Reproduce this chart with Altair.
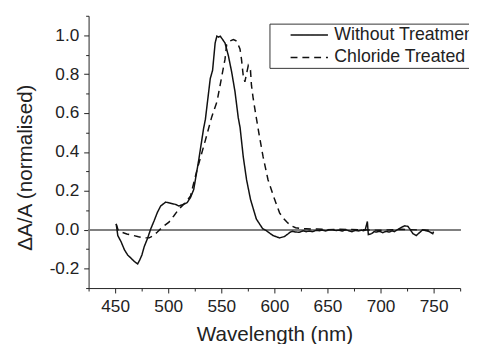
import altair as alt
import pandas as pd

# Without Treatment (solid)
sol_wl = [451, 452.5, 455.6, 458.8, 461.8, 464.9, 468, 471.2, 473.3, 475.2, 477.4, 480.5,
          483.6, 486.8, 489.8, 492.9, 497.6, 502.2, 507, 510, 514.6, 517.8, 520.9, 524,
          528.7, 533.3, 535, 539.6, 541.8, 544.2, 545.8, 547.4, 549, 551, 553.5, 556.7,
          559.8, 562.9, 566, 567.7, 570.7, 573.8, 577.5, 583, 589, 592.4, 598.7, 604.9,
          609.5, 612.7, 614.8, 617, 620, 623.5, 627, 630, 633, 636, 639, 642.3, 645, 648.5,
          651, 654.6, 658, 660.8, 664, 667, 670, 673, 676, 679.4, 682, 683.8, 685.5, 687.6,
          688.5, 691.6, 694, 696, 699, 702, 705, 708.4, 711, 713, 716, 719.6, 722.7, 725.8,
          727.4, 730.5, 733.6, 736.7, 739.8, 742.9, 746, 749.2, 750]
sol_val = [0.03, -0.03, -0.062, -0.104, -0.13, -0.146, -0.163, -0.176, -0.154, -0.13, -0.087, -0.045,
           0.005, 0.047, 0.089, 0.122, 0.142, 0.136, 0.13, 0.122, 0.131, 0.139, 0.165, 0.206,
           0.357, 0.52, 0.567, 0.777, 0.82, 0.96, 0.995, 0.99, 0.995, 0.98, 0.96, 0.894,
           0.81, 0.71, 0.575, 0.525, 0.374, 0.257, 0.156, 0.055, 0.005, -0.005, -0.03, -0.042,
           -0.035, -0.022, -0.013, -0.008, -0.012, -0.013, -0.006, -0.01, -0.007, -0.01, -0.004, -0.005, -0.002, -0.006,
           -0.001, 0.0, -0.004, -0.002, -0.007, 0.0, -0.005, -0.01, -0.004, -0.006, -0.002, -0.005, -0.002, 0.042,
           -0.025, -0.02, -0.01, -0.012, -0.008, -0.015, -0.009, -0.012, -0.006, -0.01, 0.0, 0.012, 0.02, 0.017,
           0.005, -0.02, -0.03, -0.015, 0.0, -0.005, -0.01, -0.02, -0.01]

# Chloride Treated (dashed)
dash_wl = [451, 453, 455.6, 461, 466.5, 472, 477.4, 482, 486, 489.8, 494.5, 500.7, 505.4, 510,
           516.2, 521, 527.1, 534.9, 541, 546, 550.5, 553.5, 555, 558, 561.4, 564.5, 567.6,
           569, 570.7, 572.2, 575.4, 577.5, 578.4, 580, 583, 585.6, 589.4, 594, 600.2, 604.9,
           608, 612, 615.8, 620, 625, 630, 635, 640, 645, 650, 660, 680, 700, 720, 740, 750]
dash_val = [0.03, -0.005, -0.012, -0.022, -0.029, -0.036, -0.042, -0.042, -0.03, -0.012, 0.013, 0.039,
            0.072, 0.106, 0.139, 0.173, 0.307, 0.458, 0.58, 0.66, 0.79, 0.877, 0.95, 0.97, 0.978,
            0.97, 0.93, 0.877, 0.79, 0.76, 0.844, 0.82, 0.743, 0.676, 0.575, 0.49, 0.374, 0.257,
            0.156, 0.087, 0.062, 0.038, 0.02, 0.01, 0.006, 0.005, 0.003, 0.004, 0.002, 0.0,
            0.002, 0.0, -0.003, 0.002, -0.002, -0.004]

series_names = ["Without Treatment", "Chloride Treated"]
x_major = [450, 500, 550, 600, 650, 700, 750]
x_minor = [425, 475, 525, 575, 625, 675, 725, 775]
y_major = [-0.2, 0.0, 0.2, 0.4, 0.6, 0.8, 1.0]
y_minor = [-0.3, -0.1, 0.1, 0.3, 0.5, 0.7, 0.9, 1.1]

df = pd.DataFrame({
    "wl": sol_wl + dash_wl,
    "val": sol_val + dash_val,
    "series": [series_names[0]] * len(sol_wl) + [series_names[1]] * len(dash_wl),
})

FONT = "Liberation Sans"
TXT = "#222222"

x_scale = alt.Scale(domain=[425, 775], nice=False, zero=False)
y_scale = alt.Scale(domain=[-0.3, 1.1], nice=False, zero=False)

x_enc = alt.X(
    "wl:Q", scale=x_scale,
    axis=alt.Axis(
        values=x_major, title="Wavelength (nm)", grid=False, tickSize=5,
        labelOverlap=False, labelFlush=False, labelPadding=5,
        titleBaseline="alphabetic", titleY=53,
    ),
)
y_enc = alt.Y(
    "val:Q", scale=y_scale,
    axis=alt.Axis(
        values=y_major, title="ΔA/A (normalised)", grid=False, tickSize=5,
        format=".1f", labelExpr="replace(datum.label, '\u2212', '-')",
        labelOverlap=False, labelFlush=False, labelPadding=5,
        titleBaseline="alphabetic", titleX=-58, titleY=154,
    ),
)

zero_line = alt.Chart(df).mark_rule(color="#808080", strokeWidth=1.5).encode(y=alt.datum(0))

lines = alt.Chart(df).mark_line(strokeWidth=1.5, color="#111111").encode(
    x=x_enc,
    y=y_enc,
    strokeDash=alt.StrokeDash(
        "series:N",
        scale=alt.Scale(domain=series_names, range=[[1, 0], [7, 5]]),
        legend=alt.Legend(
            title=None, orient="none", legendX=184, legendY=8,
            symbolType="M-2,0H2", symbolSize=361, symbolStrokeWidth=1.5,
            symbolStrokeColor="#111111", symbolOffset=29, labelOffset=15,
            labelFontSize=18, labelFont=FONT, labelColor=TXT, labelLimit=0,
            padding=1, rowPadding=3, strokeColor="#333333", fillColor="white",
        ),
    ),
)

ghost = alt.Chart(df).mark_point(opacity=0).encode(
    x=alt.X("wl:Q", scale=x_scale,
            axis=alt.Axis(orient="bottom", values=x_minor, labels=False, domain=False,
                          title=None, grid=False, tickSize=3)),
    y=alt.Y("val:Q", scale=y_scale,
            axis=alt.Axis(orient="left", values=y_minor, labels=False, domain=False,
                          title=None, grid=False, tickSize=3)),
)

main = alt.layer(zero_line, lines)

chart = alt.layer(main, ghost).resolve_scale(x="independent", y="independent").properties(
    width=378, height=277,
    autosize=alt.AutoSizeParams(type="none"),
    padding={"left": 82, "top": 5, "right": 9, "bottom": 54},
).configure_view(stroke=None).configure_axis(
    labelFont=FONT, titleFont=FONT, labelFontSize=17.5, titleFontSize=21,
    titleFontWeight="normal", labelColor=TXT, titleColor=TXT,
    domainColor=TXT, tickColor=TXT, domainWidth=1, tickWidth=1,
)

chart.save("out.html", embed_options={"renderer": "svg", "actions": False})
